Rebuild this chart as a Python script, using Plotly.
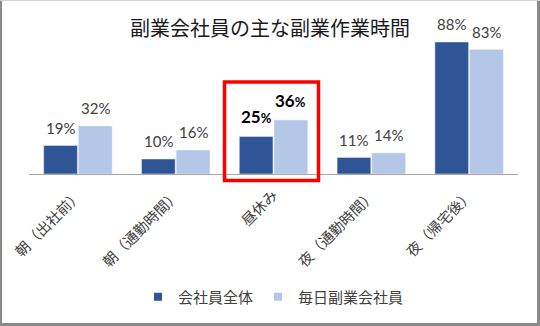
import plotly.graph_objects as go

categories = ["朝（出社前）", "朝（通勤時間）", "昼休み", "夜（通勤時間）", "夜（帰宅後）"]
all_employees = [19, 10, 25, 11, 88]
daily_side = [32, 16, 36, 14, 83]
series_names = ["会社員全体", "毎日副業会社員"]
highlight_index = 2

W, H = 540, 326
ML, MR, MT, MB = 29, 22, 24, 152
PW, PH = W - ML - MR, H - MT - MB

DARK = "#2F5597"
LIGHT = "#B4C7E7"
TXT = "#404040"
FONT = "Lato, 'Noto Sans CJK JP', sans-serif"
JFONT = "'Noto Sans CJK JP', sans-serif"


def px_x(p):
    return (p - ML) / PW


def px_y(p):
    return (H - MB - p) / PH


fig = go.Figure()
fig.add_trace(go.Bar(x=categories, y=all_employees, name=series_names[0],
                     marker_color=DARK, showlegend=False))
fig.add_trace(go.Bar(x=categories, y=daily_side, name=series_names[1],
                     marker_color=LIGHT, showlegend=False))
for nm, col in zip(series_names, [DARK, LIGHT]):
    fig.add_trace(go.Scatter(x=[None], y=[None], mode="markers", name=nm,
                             marker=dict(symbol="square", size=8, color=col)))

half = PW / len(categories) * (1 - 0.29) / 4
annotations = []
for i, cat in enumerate(categories):
    for vals, dx in ((all_employees, -half), (daily_side, half)):
        v = vals[i]
        if i == highlight_index:
            txt = f"<b>{v}</b><span style='font-size:13px'><b>%</b></span>"
            fs, col, ys = 17, "#000000", 20
        else:
            txt = f"{v}%"
            fs, col, ys = 15, TXT, 18
        annotations.append(dict(x=cat, y=v, xref="x", yref="y", text=txt,
                                showarrow=False, xshift=dx, yshift=ys,
                                yanchor="middle", xanchor="center",
                                font=dict(family=FONT, size=fs, color=col)))

shapes = [
    # highlight box
    dict(type="rect", xref="paper", yref="paper",
         x0=px_x(224.5), x1=px_x(318.5), y0=px_y(180.5), y1=px_y(82),
         line=dict(color="#FF0000", width=3.5), layer="above"),
    # outer frame
    dict(type="line", xref="paper", yref="paper", x0=px_x(1), x1=px_x(1),
         y0=px_y(0), y1=px_y(H), line=dict(color="#8a8a8a", width=2)),
    dict(type="line", xref="paper", yref="paper", x0=px_x(538.5), x1=px_x(538.5),
         y0=px_y(0), y1=px_y(H), line=dict(color="#8a8a8a", width=3)),
    dict(type="line", xref="paper", yref="paper", x0=px_x(0), x1=px_x(W),
         y0=px_y(324.5), y1=px_y(324.5), line=dict(color="#8a8a8a", width=3)),
    dict(type="line", xref="paper", yref="paper", x0=px_x(0), x1=px_x(W),
         y0=px_y(0.5), y1=px_y(0.5), line=dict(color="#d0d0d0", width=1)),
]

fig.update_layout(
    width=W, height=H,
    margin=dict(l=ML, r=MR, t=MT, b=MB, pad=0, autoexpand=False),
    paper_bgcolor="white", plot_bgcolor="white",
    barmode="group", bargap=0.29, bargroupgap=0.03,
    title=dict(text="副業会社員の主な副業作業時間", x=270 / W, xanchor="center",
               xref="container", yref="container", y=1 - 29 / H, yanchor="middle",
               font=dict(family=JFONT, size=20, color="#1a1a1a")),
    xaxis=dict(showline=True, linecolor="#a6a6a6", linewidth=1, ticks="",
               tickangle=-45, tickfont=dict(family=JFONT, size=14.5, color=TXT),
               ticklabelstandoff=6, automargin=False,
               showgrid=False, fixedrange=True),
    yaxis=dict(range=[0, 100], visible=False, showgrid=False, zeroline=False,
               automargin=False),
    legend=dict(orientation="h", x=0.5, xanchor="center", y=px_y(297), yanchor="middle",
                font=dict(family=JFONT, size=15, color=TXT), itemclick=False),
    annotations=annotations,
    shapes=shapes,
)

fig.write_html("out.html")
